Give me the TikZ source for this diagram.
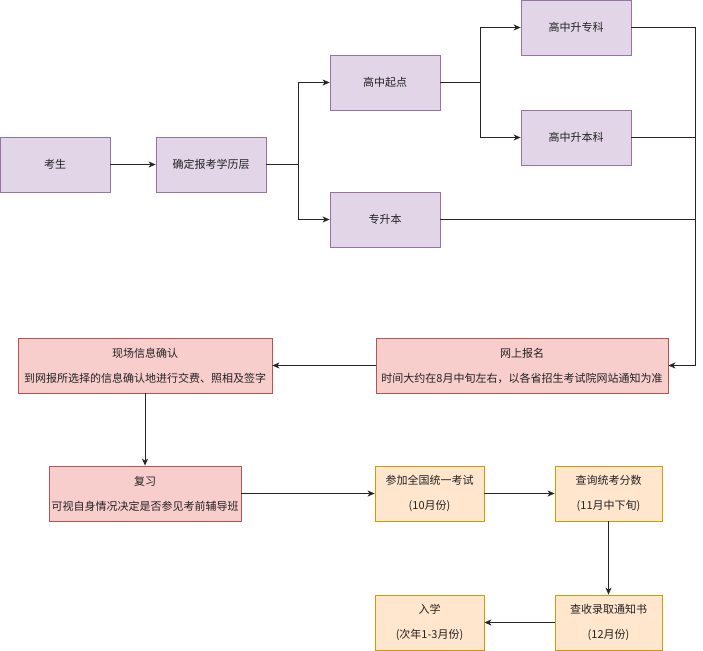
\documentclass[tikz,border=0pt]{standalone}
\usepackage{fontspec}
\setmainfont{Noto Sans CJK SC}
\usetikzlibrary{arrows.meta,calc}
\definecolor{purfill}{HTML}{E1D5E7}
\definecolor{purline}{HTML}{9673A6}
\definecolor{redfill}{HTML}{F8CECC}
\definecolor{redline}{HTML}{B85450}
\definecolor{orgfill}{HTML}{FFE6CC}
\definecolor{orgline}{HTML}{D79B00}
\definecolor{txt}{HTML}{222222}
\begin{document}
\begin{tikzpicture}[x=1pt,y=-1pt,
  base/.style={rectangle, line width=0.8pt, inner sep=0pt, align=center,
    minimum height=55pt, text=txt, font=\fontsize{11}{25}\selectfont},
  purp/.style={base, fill=purfill, draw=purline},
  redb/.style={base, fill=redfill, draw=redline},
  orgb/.style={base, fill=orgfill, draw=orgline},
  conn/.style={line width=0.9pt, draw=black!85},
  arr/.style={conn, -{Stealth[length=7pt,width=6pt,inset=2pt]}}
]
\useasboundingbox (0,0) rectangle (703,650);
% top part
\node[purp, minimum width=110pt] (ks)  at (55,164.5)  {考生};
\node[purp, minimum width=110pt] (qd)  at (211,164.5) {确定报考学历层};
\node[purp, minimum width=110pt] (gz)  at (385,82.5)  {高中起点};
\node[purp, minimum width=110pt] (zsb) at (385,219.5) {专升本};
\node[purp, minimum width=110pt] (zk)  at (576,27.5)  {高中升专科};
\node[purp, minimum width=110pt] (bk)  at (576,137.5) {高中升本科};
% middle part
\node[redb, minimum width=292pt] (ws) at (522,365.5) {网上报名\\时间大约在8月中旬左右，以各省招生考试院网站通知为准};
\node[redb, minimum width=254pt] (xc) at (145,365.5) {现场信息确认\\到网报所选择的信息确认地进行交费、照相及签字};
\node[redb, minimum width=192pt] (fx) at (145,493.5) {复习\\可视自身情况决定是否参见考前辅导班};
% bottom part
\node[orgb, minimum width=109pt] (cj) at (429.5,493.5) {参加全国统一考试\\(10月份)};
\node[orgb, minimum width=107pt] (cx) at (608.5,493.5) {查询统考分数\\(11月中下旬)};
\node[orgb, minimum width=107pt] (cs) at (608.5,622.5) {查收录取通知书\\(12月份)};
\node[orgb, minimum width=109pt] (rx) at (429.5,622.5) {入学\\(次年1-3月份)};
% connectors
\coordinate (b1) at (298,164.5);
\coordinate (b2) at (480.5,82.5);
\coordinate (rt) at (695.5,27.5);
\draw[arr] (ks) -- (qd);
\draw[arr] (qd.east) -- (b1) |- (gz.west);
\draw[arr] (b1) |- (zsb.west);
\draw[arr] (gz.east) -- (b2) |- (zk.west);
\draw[arr] (b2) |- (bk.west);
\draw[arr] (zk.east) -- (rt) |- (ws.east);
\draw[conn] (bk.east) -- (bk.east -| rt);
\draw[conn] (zsb.east) -- (zsb.east -| rt);
\draw[arr] (ws) -- (xc);
\draw[arr] (xc) -- (fx);
\draw[arr] (fx) -- (cj);
\draw[arr] (cj) -- (cx);
\draw[arr] (cx) -- (cs);
\draw[arr] (cs) -- (rx);
\end{tikzpicture}
\end{document}
